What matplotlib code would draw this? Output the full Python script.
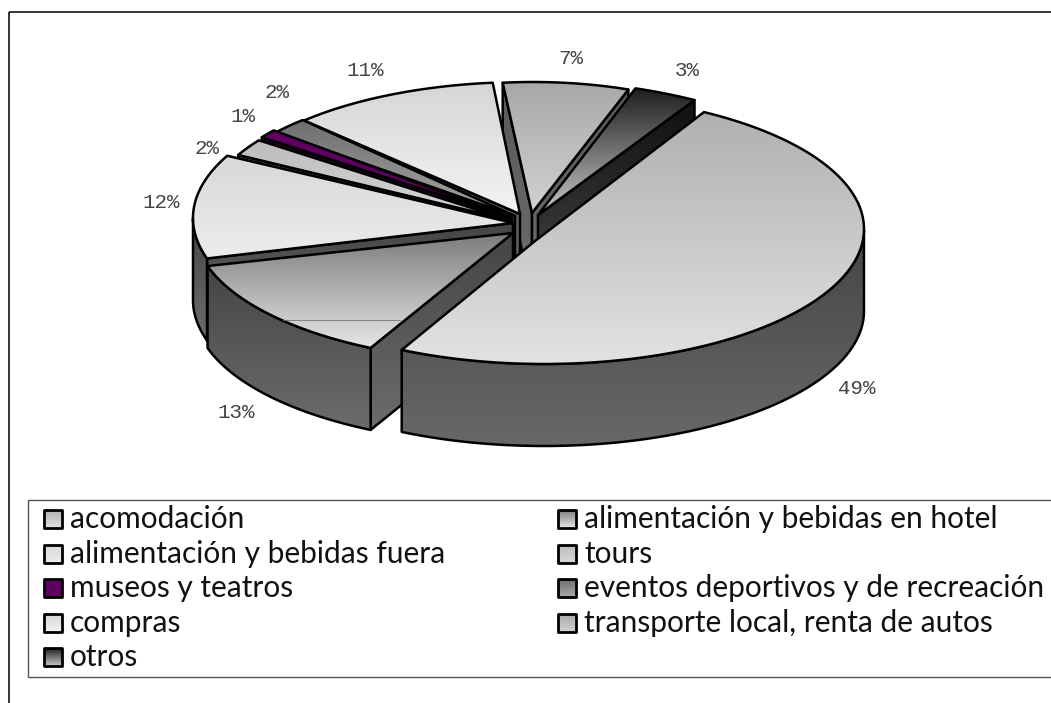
import numpy as np
import matplotlib
matplotlib.use('Agg')
import matplotlib.pyplot as plt
from matplotlib.patches import Polygon, Rectangle

# chart values
categories = ['acomodación', 'alimentación y bebidas en hotel',
              'alimentación y bebidas fuera', 'tours', 'museos y teatros',
              'eventos deportivos y de recreación', 'compras',
              'transporte local, renta de autos', 'otros']
shares = [49, 13, 12, 2, 1, 2, 11, 7, 3]
pct_labels = ['49%', '13%', '12%', '2%', '1%', '2%', '11%', '7%', '3%']

# look of each slice: gradient top -> bottom on the top face and on the walls
top_from = ['#b0b0b0', '#7c7c7c', '#d8d8d8', '#bcbcbc', '#5f0060', '#6e6e6e', '#d6d6d6', '#a8a8a8', '#1e1e1e']
top_to = ['#e2e2e2', '#e6e6e6', '#ececec', '#d8d8d8', '#5f0060', '#a8a8a8', '#f4f4f4', '#d2d2d2', '#c8c8c8']
wall_from = ['#454545', '#454545', '#454545', '#454545', '#2a002a', '#3a3a3a', '#505050', '#5a5a5a', '#101010']
wall_to = ['#686868', '#6c6c6c', '#6c6c6c', '#6c6c6c', '#2a002a', '#5a5a5a', '#6c6c6c', '#6c6c6c', '#484848']
# where each slice's tip ended up after exploding (px)
tips = [(535, 241), (513, 233), (513, 223), (509, 220), (512, 218),
        (515, 216), (520, 214), (532, 213), (538, 215)]
# rim ellipse of each slice: centre x, centre y, radius x, radius y (px)
rims = [(544, 229, 320, 135), (512, 227, 318, 135), (521, 218, 328, 140),
        (532, 215, 328, 135), (535, 212, 328, 135), (537, 211, 328, 130),
        (525, 210, 309, 128), (533, 217, 290, 135), (522, 230, 345, 150)]
label_xy = [(857, 388), (236, 413), (161, 202), (207, 148), (243, 116),
            (277, 93), (365, 71), (571, 58), (687, 70)]
paint_order = [7, 8, 6, 5, 4, 3, 2, 1, 0]

start_angle = 30.0
depth = 82.0
lw = 1.8


def project(rim, theta):
    return rim[0] + rim[2] * np.sin(theta), rim[1] - rim[3] * np.cos(theta)


def gradient_fill(ax, pts, c0, c1, zorder, line=lw):
    # vertical gradient image clipped to the polygon
    pts = np.asarray(pts)
    x0, x1 = pts[:, 0].min(), pts[:, 0].max()
    y0, y1 = pts[:, 1].min(), pts[:, 1].max()
    a = np.array(matplotlib.colors.to_rgb(c0))
    b = np.array(matplotlib.colors.to_rgb(c1))
    t = np.linspace(0, 1, 128)[:, None, None]
    img = a * (1 - t) + b * t
    im = ax.imshow(img, extent=(x0, x1, y1, y0), aspect='auto', zorder=zorder, interpolation='bilinear')
    clip = Polygon(pts, closed=True, transform=ax.transData)
    im.set_clip_path(clip)
    ax.add_patch(Polygon(pts, closed=True, fill=False, ec='black', lw=line, joinstyle='round', zorder=zorder))


plt.rcParams['font.family'] = ['Lato', 'DejaVu Sans']
fig = plt.figure(figsize=(10.51, 7.03), dpi=100)
ax = fig.add_axes([0, 0, 1, 1])
ax.set_xlim(0, 1051)
ax.set_ylim(703, 0)
ax.axis('off')

# outer frame and legend box, both run off the right edge of the picture
ax.add_patch(Rectangle((9, 12), 1100, 760, fill=False, ec='black', lw=1.1))
ax.add_patch(Rectangle((28, 500), 1100, 177, fill=False, ec='#555555', lw=1.0))

# slice angles from the shares
edges = np.radians(start_angle + np.cumsum([0] + shares) / sum(shares) * 360.0)

z = 2
for i in paint_order:
    tip = tips[i]
    rim = rims[i]
    th = np.linspace(edges[i], edges[i + 1], 120)
    px, py = project(rim, th)
    arc = np.column_stack([px, py])
    # radial walls, only those that face the viewer
    for k, theta in enumerate([edges[i], edges[i + 1]]):
        sign = -1 if k == 0 else 1
        normal_v = np.cos(theta + sign * np.pi / 2)
        if normal_v < 0:
            e = project(rim, theta)
            quad = [tip, e, (e[0], e[1] + depth), (tip[0], tip[1] + depth)]
            gradient_fill(ax, quad, wall_from[i], wall_to[i], z)
            z += 1
    # outer wall, front half only
    front = np.cos(th) <= 0
    if front.any():
        ax_pts = arc[front]
        wall = np.vstack([ax_pts, (ax_pts + [0, depth])[::-1]])
        gradient_fill(ax, wall, wall_from[i], wall_to[i], z)
        z += 1
    # top face
    face = np.vstack([[tip], arc])
    gradient_fill(ax, face, top_from[i], top_to[i], z)
    z += 1

# stray hairline on the hotel slice
ax.plot([283, 400], [320, 320], color='#777777', lw=0.6, zorder=z)

for txt, (x, y) in zip(pct_labels, label_xy):
    ax.text(x, y, txt, family='Liberation Mono', fontsize=15, color='#444444', ha='center', va='center', zorder=z + 1)

# legend, two columns filled row by row
col_x = [44, 558]
row_y = [519, 554, 588, 623, 657]
for i, name in enumerate(categories):
    x = col_x[i % 2]
    y = row_y[i // 2]
    gradient_fill(ax, [(x, y - 9), (x + 18, y - 9), (x + 18, y + 9), (x, y + 9)], top_from[i], top_to[i], z, line=2.0)
    ax.text(x + 26, y, name, fontsize=21.5, color='#111111', va='center', ha='left', zorder=z)

ax.set_xlim(0, 1051)
ax.set_ylim(703, 0)
fig.savefig('out.png', dpi=100)
